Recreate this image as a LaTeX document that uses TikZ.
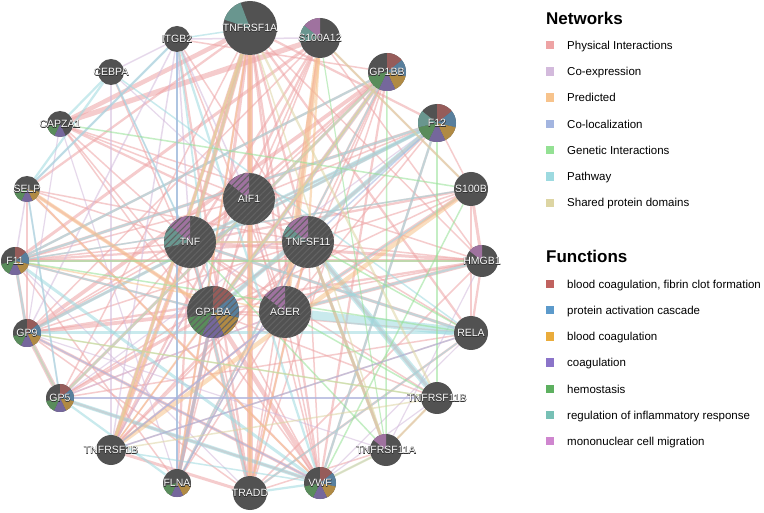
\documentclass[tikz,border=0pt]{standalone}
\usepackage{fontspec}
\setmainfont{Liberation Sans}
\newfontfamily\halofont[FakeBold=5]{Liberation Sans}
\usetikzlibrary{backgrounds,patterns.meta}

\definecolor{nodeg}{HTML}{525252}
\definecolor{hatchc}{HTML}{626262}
\definecolor{haloc}{HTML}{333333}
\definecolor{netPhys}{HTML}{EEA3A4}
\definecolor{netCoex}{HTML}{D3BADC}
\definecolor{netPred}{HTML}{F7C38C}
\definecolor{netColoc}{HTML}{A3B5E0}
\definecolor{netGen}{HTML}{94E194}
\definecolor{netPath}{HTML}{9DDAE0}
\definecolor{netDom}{HTML}{DDD5A3}
\definecolor{fRed}{HTML}{C0625F}
\definecolor{fBlue}{HTML}{5C9ACB}
\definecolor{fGold}{HTML}{EAAC3B}
\definecolor{fPurp}{HTML}{8B74C9}
\definecolor{fGreen}{HTML}{5DB060}
\definecolor{fTeal}{HTML}{77C0B5}
\definecolor{fPink}{HTML}{CF86CF}
\colorlet{sR}{fRed!62!nodeg}
\colorlet{sB}{fBlue!62!nodeg}
\colorlet{sG}{fGold!62!nodeg}
\colorlet{sP}{fPurp!62!nodeg}
\colorlet{sN}{fGreen!62!nodeg}
\colorlet{sT}{fTeal!62!nodeg}
\colorlet{sK}{fPink!62!nodeg}

\newcommand\genefont{\fontsize{10.5}{12}\selectfont}
\newcommand\legfont{\fontsize{11.5}{13}\selectfont}
\newcommand\headfont{\fontsize{17}{20}\selectfont\bfseries}
% white gene name with a dark rim
\newcommand\halo[1]{%
  \makebox[0pt]{\halofont\color{haloc}#1}\makebox[0pt]{\color{white}#1}}

\tikzset{
  slices/.code={\def\slicelist{#1}},
  gene/.style={circle, fill=nodeg, inner sep=0pt, minimum size=#1, font=\genefont, slices={},
    path picture={\ifx\slicelist\empty\else
      \foreach \k/\c in \slicelist {\fill[\c] (path picture bounding box.center) -- ++({90-(\k-1)*360/7}:40)
        arc ({90-(\k-1)*360/7}:{90-\k*360/7}:40) -- cycle;}\fi}},
  query/.style={postaction={pattern={Lines[angle=45,distance=4.5pt,line width=1.1pt]}, pattern color=hatchc}},
  phys/.style={draw=netPhys, draw opacity=0.55},
  coex/.style={draw=netCoex, draw opacity=0.55},
  pred/.style={draw=netPred, draw opacity=0.55},
  coloc/.style={draw=netColoc, draw opacity=0.55},
  gen/.style={draw=netGen, draw opacity=0.55},
  path/.style={draw=netPath, draw opacity=0.55},
  dom/.style={draw=netDom, draw opacity=0.55},
  legsq/.style={inner sep=0pt, minimum size=8.5pt},
  legtx/.style={anchor=base west, inner sep=0pt, font=\legfont},
}

\begin{document}
\begin{tikzpicture}[x=1pt,y=1pt]
  %%%%% START %%%%%
  \useasboundingbox (0,0) rectangle (764,-513);

  % outer ring
  \node[gene=54, slices={6.6/sT}] (t1a) at (250,-28) {\halo{TNFRSF1A}};
  \node[gene=40, slices={6/sT,7/sK}] (s12) at (320,-38) {\halo{S100A12}};
  \node[gene=38, slices={1/sR,2/sB,3/sG,4/sP,5/sN}] (gbb) at (387,-72) {\halo{GP1BB}};
  \node[gene=38, slices={1/sR,2/sB,3/sG,4/sP,5/sN,6/sT}] (f12) at (437,-123) {\halo{F12}};
  \node[gene=34] (sb) at (471,-189) {\halo{S100B}};
  \node[gene=32, slices={7/sK}] (hm) at (482,-261) {\halo{HMGB1}};
  \node[gene=34] (rela) at (471,-333) {\halo{RELA}};
  \node[gene=32] (t11b) at (437,-398) {\halo{TNFRSF11B}};
  \node[gene=32, slices={7/sK}] (t11a) at (386,-450) {\halo{TNFRSF11A}};
  \node[gene=32, slices={1/sR,2/sB,3/sG,4/sP,5/sN}] (vwf) at (320,-483) {\halo{VWF}};
  \node[gene=34] (trd) at (250,-493) {\halo{TRADD}};
  \node[gene=28, slices={3/sG,4/sP,5/sN}] (flna) at (177,-483) {\halo{FLNA}};
  \node[gene=30] (t1b) at (111,-450) {\halo{TNFRSF1B}};
  \node[gene=28, slices={1/sR,2/sB,3/sG,4/sP,5/sN}] (gp5) at (60,-398) {\halo{GP5}};
  \node[gene=28, slices={1/sR,2/sB,3/sG,4/sP,5/sN}] (gp9) at (27,-333) {\halo{GP9}};
  \node[gene=28, slices={1/sR,2/sB,3/sG,4/sP,5/sN}] (f11) at (15,-261) {\halo{F11}};
  \node[gene=26, slices={3/sG,4/sP,5/sN}] (selp) at (27,-189) {\halo{SELP}};
  \node[gene=26, slices={4/sP,5/sN}] (cap) at (60,-124) {\halo{CAPZA1}};
  \node[gene=26] (ceb) at (111,-72) {\halo{CEBPA}};
  \node[gene=26] (itg) at (177,-39) {\halo{ITGB2}};

  % query genes
  \node[gene=52, query, slices={7/sK}] (aif) at (249,-199) {\halo{AIF1}};
  \node[gene=52, query, slices={6/sT,7/sK}] (tnf) at (190,-242) {\halo{TNF}};
  \node[gene=52, query, slices={6.5/sT,7/sK}] (tsf) at (308,-242) {\halo{TNFSF11}};
  \node[gene=52, query, slices={1/sR,2/sB,3/sG,4/sP,5/sN}] (gba) at (213,-312) {\halo{GP1BA}};
  \node[gene=52, query, slices={7/sK}] (ager) at (285,-312) {\halo{AGER}};

  \begin{pgfonlayer}{background}
    \fill[white] (0,0) rectangle (764,-513);
    \foreach \a/\b/\s/\w in {
      t1a/trd/phys/4.5, t1a/tnf/phys/3, t1a/t1b/phys/2.5, t1a/flna/phys/1.5, t1a/gba/phys/2,
      t1a/cap/phys/3, t1a/selp/phys/1.5, t1a/rela/phys/1.5, t1a/ager/phys/1.5, t1a/vwf/phys/1.5,
      t1a/gp5/phys/1, t1a/hm/phys/1, t1a/f12/phys/1.5, t1a/tsf/phys/1.5, t1a/aif/phys/1.5,
      s12/ager/phys/2, s12/cap/phys/3.5, s12/f11/phys/2, s12/tnf/phys/1.5, s12/t1b/phys/1.5,
      s12/sb/phys/1, s12/hm/phys/1, s12/trd/phys/1, s12/aif/phys/1, s12/gba/phys/1, s12/gp9/phys/1,
      gbb/gba/phys/3, gbb/gp9/phys/2.5, gbb/gp5/phys/2, gbb/vwf/phys/1.5, gbb/flna/phys/1.5,
      gbb/f11/phys/1.5, gbb/trd/phys/1, gbb/tnf/phys/1.5, gbb/aif/phys/1, gbb/tsf/phys/1, gbb/ager/phys/1,
      f12/f11/phys/2, f12/gba/phys/2, f12/vwf/phys/1.5, f12/gp9/phys/1.5, f12/tnf/phys/1,
      f12/t1b/phys/1, f12/sb/phys/1, f12/aif/phys/1, f12/ager/phys/1,
      sb/ager/phys/2.5, sb/tnf/phys/1.5, sb/hm/phys/2, sb/rela/phys/1.5, sb/f11/phys/1,
      sb/tsf/phys/1, sb/gba/phys/1,
      hm/ager/phys/2.5, hm/tnf/phys/2, hm/gp9/phys/1.5, hm/f11/phys/2, hm/rela/phys/1.5, hm/trd/phys/1,
      hm/tsf/phys/1, hm/gba/phys/1,
      rela/tnf/phys/2, rela/trd/phys/1.5, rela/gp5/phys/1, rela/t1b/phys/1, rela/gba/phys/1, rela/aif/phys/1,
      t11b/tsf/phys/2, t11b/t11a/phys/1, t11a/tsf/phys/1.5, t11a/trd/phys/1, t11b/tnf/phys/1, t11b/gba/phys/1,
      vwf/gba/phys/3, vwf/gp9/phys/2, vwf/gp5/phys/1.5, vwf/selp/phys/1.5, vwf/tnf/phys/1,
      vwf/cap/phys/1, vwf/aif/phys/1, vwf/tsf/phys/1, vwf/ager/phys/1,
      trd/t1b/phys/2, trd/tnf/phys/2.5, trd/tsf/phys/1.5, trd/gp9/phys/1, trd/aif/phys/1,
      trd/ager/phys/1, trd/gba/phys/1,
      flna/gba/phys/2.5, flna/tnf/phys/1.5, flna/aif/phys/1, flna/f11/phys/1, flna/ager/phys/1, flna/tsf/phys/1,
      t1b/tnf/phys/3, t1b/tsf/phys/1.5, t1b/ager/phys/1.5, t1b/gba/phys/1, t1b/aif/phys/1,
      gp5/gp9/phys/3, gp5/gba/phys/2, gp5/tsf/phys/1, gp5/tnf/phys/1, gp5/ager/phys/1,
      gp9/gba/phys/2.5, gp9/f11/phys/2, gp9/tnf/phys/1, gp9/aif/phys/1, gp9/tsf/phys/1,
      f11/gba/phys/1.5, f11/tsf/phys/1.5, f11/tnf/phys/1, f11/aif/phys/1,
      selp/gba/phys/1.5, selp/gp9/phys/1, selp/tnf/phys/1, selp/tsf/phys/1,
      cap/aif/phys/1, cap/tsf/phys/1.5, cap/hm/phys/1, cap/tnf/phys/1, cap/gba/phys/1,
      aif/tnf/phys/1.5, aif/ager/phys/1, tnf/tsf/phys/1.5, tnf/ager/phys/1.5, gba/ager/phys/1,
      itg/trd/phys/1.5, itg/tsf/phys/1, itg/gbb/phys/1, itg/ager/phys/1, ceb/gba/phys/1,
      itg/selp/coex/1, itg/aif/coex/1, itg/flna/coex/1, itg/t1b/coex/1, itg/tnf/coex/1,
      itg/gp9/coex/1, ceb/itg/coex/1, ceb/aif/coex/0.8, ceb/tnf/coex/0.8, ceb/t1b/coex/0.8,
      selp/gp5/coex/1, selp/f11/coex/1, cap/flna/coex/0.8, cap/gp9/coex/0.8, aif/t1b/coex/1,
      s12/itg/coex/1, hm/t11a/coex/0.8, t11b/gp5/coex/0.8, t11a/gp9/coex/0.8, vwf/t11b/coex/0.8,
      f11/trd/coex/0.8, rela/vwf/coex/0.8, tsf/t11a/coex/1, ager/t1b/coex/0.8, gp5/ager/coex/1,
      f12/gp5/coex/0.8,
      rela/ager/path/6, rela/gp9/path/2, rela/tnf/path/1.5, rela/trd/path/1, ceb/cap/path/1.5,
      ceb/selp/path/1.5, ceb/tnf/path/1.2, ceb/rela/path/1, itg/selp/path/1.5, itg/t1a/path/1,
      itg/flna/path/1.5, itg/vwf/path/1.5, itg/gba/path/1.2, f12/gba/path/3, f12/f11/path/1.5,
      f12/gp9/path/2, f12/vwf/path/1.5, f12/tnf/path/2, gbb/gba/path/2, gbb/f11/path/1.5,
      gbb/gp5/path/1.5, gbb/flna/path/1, selp/gp5/path/1.2, gp9/gp5/path/1.5, gp9/f11/path/1.5,
      f11/vwf/path/2, f11/gba/path/1.2, gp5/vwf/path/2.5, gp5/flna/path/1.5, t1b/vwf/path/1,
      trd/vwf/path/1.5, trd/tnf/path/1.5, t11b/tsf/path/4, t11a/tsf/path/2, t11a/vwf/path/1,
      tnf/t1a/path/1.5, hm/ager/path/1.5, sb/f11/path/1, sb/ager/path/1,
      s12/ager/pred/4, s12/tsf/pred/1.5, t1a/tnf/pred/2, t1a/trd/pred/2.5, t1a/t1b/pred/1.5,
      sb/t1b/pred/3, t1a/flna/pred/1, tsf/t11a/pred/2, tsf/trd/pred/1, selp/gba/pred/2.5,
      selp/vwf/pred/1, gba/flna/pred/1.5, tnf/t1b/pred/1.5, gbb/t1b/pred/1, f11/ager/pred/1,
      cap/sb/gen/1, f11/hm/gen/1, t11b/f12/gen/1, t11b/ager/gen/1, t11a/tnf/gen/1,
      t11a/gbb/gen/1, rela/f11/gen/1, vwf/sb/gen/1, gp9/t11b/gen/0.8, tsf/rela/gen/1, s12/t11a/gen/0.8,
      flna/gba/coloc/2, flna/itg/coloc/1, t11b/gp5/coloc/1, rela/t1b/coloc/1, vwf/gp9/coloc/1,
      f12/tsf/coloc/1, ager/t1b/coloc/1, tsf/flna/coloc/1,
      t1a/t1b/dom/1.5, t1a/t11a/dom/1, t1a/t11b/dom/1.5, t11a/t11b/dom/1.5, t1b/t11b/dom/1,
      s12/sb/dom/1.5, t11b/gp9/dom/1, gp9/gp5/dom/1, gba/gbb/dom/1, gp5/gbb/dom/1,
      vwf/t11a/dom/1.5, tsf/tnf/dom/1}
      {\draw[\s, line width={1.5*\w pt}] (\a) -- (\b);}
  \end{pgfonlayer}

  % legend
  \node[anchor=base west, inner sep=0pt, font=\headfont] (nethead) at (546,-25) {Networks};
  \foreach \c/\t [count=\i from 0] in {netPhys/Physical Interactions, netCoex/Co-expression,
      netPred/Predicted, netColoc/Co-localization, netGen/Genetic Interactions,
      netPath/Pathway, netDom/Shared protein domains}{
    \node[legsq, fill=\c] (netsq\i) at (550,{-45-26.3*\i}) {};
    \node[legtx] (nettx\i) at (567,{-49.2-26.3*\i}) {\t};
  }
  \node[anchor=base west, inner sep=0pt, font=\headfont] (funhead) at (546,-263) {Functions};
  \foreach \c/\t [count=\i from 0] in {fRed/{blood coagulation, fibrin clot formation},
      fBlue/protein activation cascade, fGold/blood coagulation, fPurp/coagulation,
      fGreen/hemostasis, fTeal/regulation of inflammatory response, fPink/mononuclear cell migration}{
    \node[legsq, fill=\c] (funsq\i) at (550,{-284-26.2*\i}) {};
    \node[legtx] (funtx\i) at (567,{-288.2-26.2*\i}) {\t};
  }
  %%%%% END %%%%%
\end{tikzpicture}
\end{document}
